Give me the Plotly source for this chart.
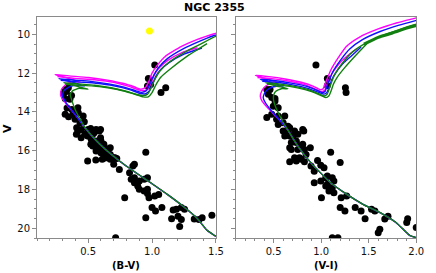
import plotly.graph_objects as go

# ---------------- data: observed stars ----------------
BV_COLOR = [0.32, 0.345, 0.307, 0.33, 0.37, 0.357, 0.32,
            0.335, 0.373, 0.42, 0.423, 0.32, 0.347, 0.383, 0.461, 0.398, 0.436, 0.47, 0.41, 0.448,
            0.50, 0.52, 0.42, 0.474, 0.536, 0.562, 0.587, 0.597,
            0.408, 0.445, 0.496, 0.547, 0.597, 0.56, 0.524, 0.521, 0.562, 0.60, 0.572, 0.536, 0.623,
            0.587, 0.625, 0.673, 0.562, 0.61, 0.60, 0.648, 0.625, 0.673, 0.66,
            0.496, 0.56, 0.61, 0.623, 0.648, 0.673, 0.70, 0.71, 0.724, 0.70, 0.744, 0.951,
            0.85, 0.862, 0.824, 0.862, 0.837, 0.90, 0.938, 0.964, 0.862, 0.888, 0.90, 0.938, 0.964,
            0.964, 0.976, 1.021, 1.052, 0.786,
            1.0, 1.027, 1.077, 0.951, 1.165, 1.19, 1.229, 1.254, 1.203, 1.153, 1.229, 1.216, 1.33,
            1.367, 1.392, 1.468, 0.715,
            1.021, 0.971, 0.964, 0.989, 1.107, 1.07]
BV_MAG = [12.84, 12.75, 13.05, 12.95, 13.15, 13.35, 13.30,
          13.80, 13.87, 13.78, 14.04, 14.12, 14.25, 14.12, 14.21, 14.38, 14.55, 14.50, 14.81, 14.90,
          14.90, 14.85, 14.98, 15.15, 15.15, 14.90, 14.98, 14.90,
          15.15, 15.33, 15.24, 15.07, 15.33, 15.50, 15.41, 15.67, 15.60, 15.50, 15.76, 15.76, 15.67,
          15.84, 15.84, 15.84, 16.01, 16.01, 16.10, 16.10, 16.19, 16.19, 15.90,
          16.53, 16.48, 16.44, 16.39, 16.36, 16.44, 16.36, 16.36, 16.40, 16.70, 16.96, 16.07,
          16.79, 16.70, 17.13, 17.39, 17.47, 17.56, 17.47, 17.39, 17.65, 17.82, 17.99, 18.08, 17.99,
          18.20, 18.42, 18.33, 18.25, 18.42,
          18.93, 19.10, 18.93, 19.45, 19.05, 19.02, 18.93, 19.02, 19.37, 19.50, 19.54, 19.91, 19.52,
          19.54, 19.45, 19.33, 20.48,
          11.58, 12.28, 12.66, 12.58, 12.75, 13.00]

VI_COLOR = [0.945, 1.065, 1.065, 1.255, 1.262,
            0.428, 0.462, 0.444, 0.48, 0.514, 0.514, 0.496, 0.548, 0.428, 0.48, 0.531, 0.548, 0.617,
            0.60, 0.548, 0.651, 0.669, 0.72, 0.806, 0.651, 0.703, 0.617, 0.755, 0.738, 0.806, 0.755,
            0.824, 0.886, 0.841, 0.669, 0.60, 0.669, 0.72, 0.817, 0.686, 0.738, 0.686, 0.79,
            0.669, 0.72, 0.772, 0.738, 0.79, 0.824, 0.893, 0.927, 0.962, 0.996, 1.03, 1.10, 1.20, 1.065,
            0.927, 0.996, 1.048, 1.117, 1.134, 1.065, 1.048, 1.117, 1.10, 1.082, 1.134, 1.003, 1.21,
            1.268, 1.20, 1.25, 1.358, 1.42, 1.462, 1.53, 1.565, 1.669, 1.703, 1.617, 1.60, 1.91, 1.90,
            2.0, 1.117, 1.176]
VI_MAG = [11.58, 12.28, 12.63, 12.75, 13.00,
          12.84, 12.84, 13.09, 13.26, 13.30, 13.44, 13.70, 13.78, 14.29, 14.12, 14.38, 14.21, 14.21,
          14.55, 14.64, 14.73, 14.81, 14.98, 14.90, 15.07, 15.24, 15.24, 15.15, 15.50, 15.67, 15.93,
          15.93, 15.84, 16.19, 15.84, 14.98, 15.24, 15.15, 14.98, 15.58, 15.58, 15.93, 15.76,
          16.56, 16.36, 16.36, 16.53, 16.44, 16.56, 16.79, 17.05, 16.50, 16.75, 16.87, 16.08, 16.61, 17.30,
          17.65, 17.56, 17.39, 17.39, 17.56, 17.73, 17.82, 17.90, 17.99, 18.08, 18.16, 18.42, 18.42,
          18.33, 18.93, 19.10, 18.93, 19.10, 19.50, 19.02, 19.10, 19.52, 19.37, 20.05, 20.22, 19.50, 19.70,
          19.96, 20.48, 20.48]

YELLOW_BV = [0.98]
YELLOW_V = [9.83]

# ---------------- data: isochrones (B-V) ----------------
MAG_BV_X = [1.50, 1.43, 1.355, 1.25, 1.13, 1.0, 0.9, 0.75, 0.6, 0.48, 0.40, 0.33, 0.285, 0.29, 0.33, 0.38, 0.44,
            0.34, 0.24, 0.35, 0.5, 0.65, 0.77, 0.86, 0.91, 0.945, 0.97, 1.0, 1.04, 1.1, 1.23, 1.355, 1.48, 1.55]
MAG_BV_Y = [20.42, 20.1, 19.5, 18.9, 18.3, 17.7, 17.25, 16.55, 15.72, 14.85, 14.15, 13.6, 13.15, 12.85, 12.55, 12.45, 12.45,
            12.25, 12.07, 12.14, 12.22, 12.36, 12.52, 12.7, 12.82, 12.76, 12.5, 12.0, 11.6, 11.15, 10.62, 10.26, 9.98, 9.85]
MAG_BV_BX = [0.26, 0.4, 0.55, 0.7, 0.82, 0.9, 0.94, 0.97, 0.995, 1.02, 1.06, 1.12, 1.23, 1.355]
MAG_BV_BY = [12.17, 12.27, 12.34, 12.47, 12.68, 12.87, 12.9, 12.8, 12.45, 12.05, 11.7, 11.35, 10.95, 10.69]

BLU_BV_X = [1.50, 1.43, 1.355, 1.25, 1.13, 1.0, 0.9, 0.75, 0.6, 0.48, 0.40, 0.34, 0.30, 0.31, 0.36, 0.42, 0.47,
            0.37, 0.27, 0.38, 0.52, 0.66, 0.78, 0.87, 0.92, 0.955, 0.98, 1.01, 1.05, 1.12, 1.25, 1.37, 1.48, 1.55]
BLU_BV_Y = [20.42, 20.1, 19.5, 18.9, 18.3, 17.7, 17.25, 16.55, 15.72, 14.85, 14.15, 13.65, 13.2, 12.9, 12.68, 12.62, 12.66,
            12.45, 12.28, 12.35, 12.42, 12.55, 12.72, 12.9, 12.99, 12.9, 12.6, 12.15, 11.72, 11.25, 10.72, 10.36, 10.07, 9.93]
BLU_BV_BX = [0.285, 0.42, 0.56, 0.7, 0.83, 0.91, 0.95, 0.98, 1.005, 1.03, 1.07, 1.13, 1.25, 1.39]
BLU_BV_BY = [12.37, 12.45, 12.52, 12.65, 12.86, 13.05, 13.06, 12.9, 12.55, 12.15, 11.8, 11.47, 11.02, 10.7]

GRN_BV_X = [1.50, 1.43, 1.355, 1.25, 1.13, 1.0, 0.9, 0.75, 0.6, 0.48, 0.40, 0.37, 0.36, 0.38, 0.43, 0.50,
            0.40, 0.307, 0.42, 0.55, 0.68, 0.79, 0.88, 0.93, 0.965, 0.99, 1.02, 1.06, 1.13, 1.26, 1.38, 1.48, 1.55]
GRN_BV_Y = [20.42, 20.1, 19.5, 18.9, 18.3, 17.7, 17.25, 16.55, 15.72, 14.85, 13.9, 13.35, 13.1, 12.9, 12.78, 12.82,
            12.65, 12.49, 12.55, 12.62, 12.75, 12.92, 13.1, 13.16, 13.08, 12.8, 12.35, 11.9, 11.45, 10.9, 10.5, 10.15, 10.0]
GRN_BV_BX = [0.32, 0.45, 0.6, 0.73, 0.85, 0.93, 0.97, 1.0, 1.03, 1.07, 1.14, 1.27, 1.43]
GRN_BV_BY = [12.57, 12.63, 12.7, 12.84, 13.05, 13.22, 13.22, 13.0, 12.6, 12.2, 11.8, 11.15, 10.48]

# ---------------- data: isochrones (V-I) ----------------
MAG_VI_X = [2.0, 1.93, 1.79, 1.62, 1.44, 1.27, 1.1, 0.89, 0.755, 0.645, 0.55, 0.45, 0.38, 0.36, 0.375, 0.42, 0.48, 0.55,
            0.43, 0.307, 0.45, 0.62, 0.8, 0.92, 0.99, 1.02, 1.045, 1.07, 1.1, 1.18, 1.27, 1.4, 1.6, 1.8, 2.0, 2.1]
MAG_VI_Y = [20.48, 20.36, 19.71, 19.19, 18.76, 18.25, 17.65, 16.61, 15.76, 14.9, 14.35, 13.85, 13.45, 13.2, 12.92, 12.65, 12.52, 12.5,
            12.3, 12.11, 12.18, 12.3, 12.48, 12.68, 12.85, 12.8, 12.5, 12.2, 11.85, 11.2, 10.6, 10.15, 9.72, 9.4, 9.15, 9.02]
MAG_VI_BX = [0.33, 0.48, 0.65, 0.82, 0.94, 1.0, 1.035, 1.06, 1.09, 1.13, 1.2, 1.29, 1.375]
MAG_VI_BY = [12.22, 12.28, 12.4, 12.58, 12.82, 12.95, 12.9, 12.6, 12.25, 11.9, 11.45, 11.05, 10.74]

BLU_VI_X = [2.0, 1.93, 1.79, 1.62, 1.44, 1.27, 1.1, 0.89, 0.755, 0.645, 0.56, 0.47, 0.41, 0.39, 0.41, 0.47, 0.54, 0.6,
            0.47, 0.359, 0.5, 0.67, 0.84, 0.95, 1.01, 1.04, 1.065, 1.09, 1.12, 1.2, 1.3, 1.43, 1.62, 1.82, 2.0, 2.1]
BLU_VI_Y = [20.48, 20.36, 19.71, 19.19, 18.76, 18.25, 17.65, 16.61, 15.76, 14.9, 14.4, 13.9, 13.5, 13.25, 12.98, 12.75, 12.66, 12.67,
            12.48, 12.32, 12.38, 12.5, 12.67, 12.87, 13.0, 12.95, 12.6, 12.3, 11.95, 11.35, 10.75, 10.28, 9.85, 9.52, 9.28, 9.15]
BLU_VI_BX = [0.38, 0.53, 0.7, 0.86, 0.97, 1.03, 1.06, 1.085, 1.11, 1.15, 1.22, 1.32, 1.42]
BLU_VI_BY = [12.42, 12.47, 12.6, 12.78, 12.98, 13.08, 13.0, 12.7, 12.35, 12.0, 11.55, 11.1, 10.65]

GRN_VI_X = [2.0, 1.93, 1.79, 1.62, 1.44, 1.27, 1.1, 0.89, 0.755, 0.645, 0.58, 0.53, 0.5, 0.5, 0.52, 0.58, 0.65,
            0.52, 0.41, 0.55, 0.72, 0.88, 0.98, 1.03, 1.06, 1.085, 1.11, 1.14, 1.22, 1.33, 1.47, 1.65, 1.85, 2.0, 2.1]
GRN_VI_Y = [20.48, 20.36, 19.71, 19.19, 18.76, 18.25, 17.65, 16.61, 15.76, 14.9, 14.35, 13.85, 13.4, 13.15, 12.95, 12.8, 12.8,
            12.65, 12.49, 12.55, 12.68, 12.87, 13.07, 13.18, 13.1, 12.8, 12.45, 12.1, 11.5, 10.9, 10.45, 10.05, 9.7, 9.48, 9.35]
GRN_VI_BX = [0.43, 0.58, 0.75, 0.9, 1.0, 1.05, 1.08, 1.105, 1.13, 1.17, 1.25, 1.36, 1.48]
GRN_VI_BY = [12.58, 12.63, 12.76, 12.95, 13.15, 13.26, 13.18, 12.9, 12.55, 12.2, 11.7, 11.1, 10.48]
GRN_VI_BANDX = [1.45, 1.6, 1.75, 1.9, 2.0, 2.1]
GRN_VI_BANDY = [10.5, 10.15, 9.93, 9.68, 9.54, 9.42]

TICKS_BV = [0.5, 1.0, 1.5]
TICKS_VI = [0.5, 1.0, 1.5, 2.0]
TICKS_V = [10, 12, 14, 16, 18, 20]

MAGENTA = '#ff00ff'
BLUE = '#1010ff'
GREEN = '#118011'

fig = go.Figure()


def line(x, y, color, xa, ya, width=1.4):
    fig.add_trace(go.Scatter(x=x, y=y, mode='lines', xaxis=xa, yaxis=ya,
                             line=dict(color=color, width=width, shape='spline', smoothing=0.5),
                             hoverinfo='skip', showlegend=False, cliponaxis=True))


def stars(x, y, color, xa, ya):
    fig.add_trace(go.Scatter(x=x, y=y, mode='markers', xaxis=xa, yaxis=ya,
                             marker=dict(color=color, size=7, line=dict(width=0)),
                             showlegend=False))


# left panel
stars(BV_COLOR, BV_MAG, 'black', 'x', 'y')
stars(YELLOW_BV, YELLOW_V, '#ffff00', 'x', 'y')
line(MAG_BV_X, MAG_BV_Y, MAGENTA, 'x', 'y')
line(MAG_BV_BX, MAG_BV_BY, MAGENTA, 'x', 'y')
line(BLU_BV_X, BLU_BV_Y, BLUE, 'x', 'y')
line(BLU_BV_BX, BLU_BV_BY, BLUE, 'x', 'y')
line(GRN_BV_X, GRN_BV_Y, GREEN, 'x', 'y')
line(GRN_BV_BX, GRN_BV_BY, GREEN, 'x', 'y')

# right panel
stars(VI_COLOR, VI_MAG, 'black', 'x2', 'y2')
line(MAG_VI_X, MAG_VI_Y, MAGENTA, 'x2', 'y2')
line(MAG_VI_BX, MAG_VI_BY, MAGENTA, 'x2', 'y2')
line(BLU_VI_X, BLU_VI_Y, BLUE, 'x2', 'y2')
line(BLU_VI_BX, BLU_VI_BY, BLUE, 'x2', 'y2')
line(GRN_VI_X, GRN_VI_Y, GREEN, 'x2', 'y2')
line(GRN_VI_BX, GRN_VI_BY, GREEN, 'x2', 'y2')
line(GRN_VI_BANDX, GRN_VI_BANDY, GREEN, 'x2', 'y2', width=3)

FONT = 'DejaVu Sans'
AX = dict(showline=True, linecolor='#8a8a8a', linewidth=1, mirror=True, ticks='outside', ticklen=4,
          tickwidth=1, tickcolor='#8a8a8a', showgrid=False, zeroline=False,
          tickfont=dict(family=FONT, size=10, color='#111111'))

fig.update_layout(
    width=436, height=273, margin=dict(l=0, r=0, t=0, b=0),
    paper_bgcolor='white', plot_bgcolor='white', showlegend=False,
    xaxis=dict(AX, domain=[0.0865, 0.5046], range=[0.1, 1.5], anchor='y', tickvals=TICKS_BV,
               ticktext=['0.5', '1.0', '1.5'],
               minor=dict(ticks='outside', ticklen=2, tickcolor='#8a8a8a', dtick=0.1, tick0=0)),
    xaxis2=dict(AX, domain=[0.5505, 0.9725], range=[0.1, 2.0], anchor='y2', tickvals=TICKS_VI,
                ticktext=['0.5', '1.0', '1.5', '2.0'],
                minor=dict(ticks='outside', ticklen=2, tickcolor='#8a8a8a', dtick=0.1, tick0=0)),
    yaxis=dict(AX, domain=[0.128, 0.938], range=[20.5, 9.1], anchor='x', tickvals=TICKS_V,
               minor=dict(ticks='outside', ticklen=2, tickcolor='#8a8a8a', dtick=0.5, tick0=0)),
    yaxis2=dict(AX, domain=[0.128, 0.938], range=[20.5, 9.1], anchor='x2', tickvals=TICKS_V,
                showticklabels=False, matches='y',
                minor=dict(ticks='outside', ticklen=2, tickcolor='#8a8a8a', dtick=0.5, tick0=0)),
    annotations=[
        dict(text='<b>NGC 2355</b>', x=0.5, y=0.971, xref='paper', yref='paper', showarrow=False,
             font=dict(family=FONT, size=11, color='black'), xanchor='center', yanchor='middle'),
        dict(text='<b>(B-V)</b>', x=0.2955, y=0.029, xref='paper', yref='paper', showarrow=False,
             font=dict(family=FONT, size=10, color='black'), xanchor='center', yanchor='middle'),
        dict(text='<b>(V-I)</b>', x=0.7615, y=0.029, xref='paper', yref='paper', showarrow=False,
             font=dict(family=FONT, size=10, color='black'), xanchor='center', yanchor='middle'),
        dict(text='<b>V</b>', x=0.016, y=0.531, xref='paper', yref='paper', showarrow=False, textangle=-90,
             font=dict(family=FONT, size=11, color='black'), xanchor='center', yanchor='middle'),
    ],
)

fig.write_html('out.html', config={'displayModeBar': False, 'staticPlot': True},
               post_script="document.body.style.margin='0px';document.body.style.overflow='hidden';")
